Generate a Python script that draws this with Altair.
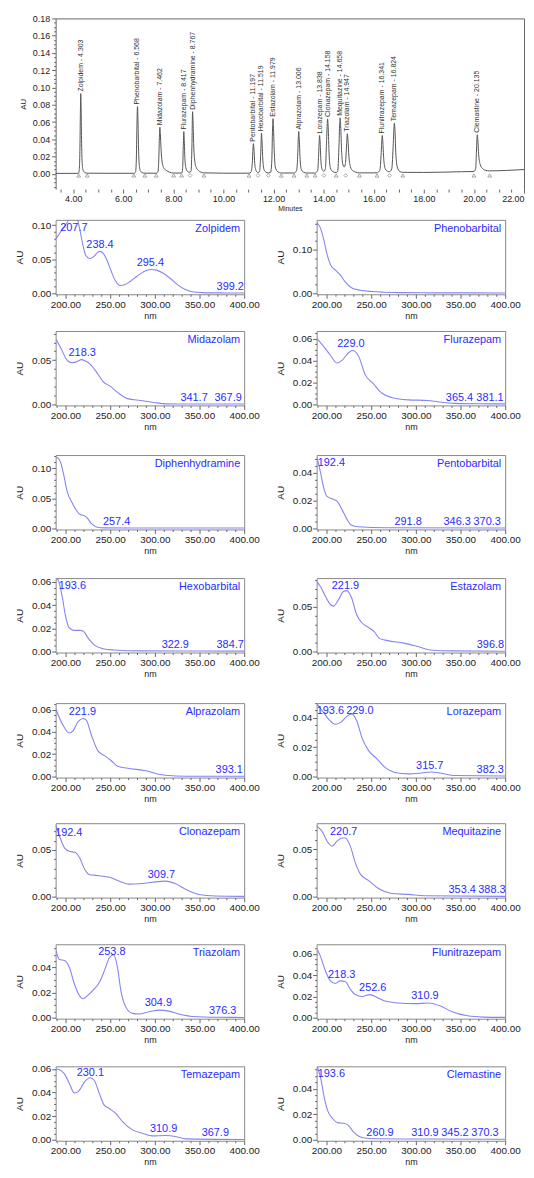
import math
import altair as alt
import pandas as pd

FONT = "Liberation Sans"
BLUE = "#2b2bff"
CURVE = "#8585f0"

# ---------------- chromatogram ----------------
chrom_time = [3.30, 4.15, 4.22, 4.25, 4.27, 4.29, 4.303, 4.315, 4.335, 4.36, 4.40, 4.47, 4.56,
              5.5, 6.42, 6.49, 6.52, 6.545, 6.568, 6.585, 6.61, 6.64, 6.69, 6.78, 6.86,
              7.32, 7.39, 7.42, 7.445, 7.462, 7.48, 7.51, 7.55, 7.62, 7.72, 7.85, 8.01,
              8.33, 8.37, 8.395, 8.417, 8.435, 8.46, 8.5, 8.56, 8.62, 8.67,
              8.71, 8.74, 8.767, 8.785, 8.81, 8.85, 8.92, 9.0, 9.1, 9.22,
              10.0, 11.02, 11.1, 11.15, 11.18, 11.197, 11.215, 11.25, 11.3, 11.38,
              11.44, 11.49, 11.519, 11.54, 11.575, 11.62, 11.7, 11.79,
              11.88, 11.93, 11.96, 11.979, 11.995, 12.03, 12.07, 12.15, 12.31,
              12.82, 12.92, 12.97, 12.99, 13.006, 13.025, 13.06, 13.11, 13.2, 13.33,
              13.66, 13.76, 13.8, 13.825, 13.838, 13.855, 13.89, 13.94, 14.01,
              14.07, 14.12, 14.158, 14.18, 14.22, 14.27, 14.35, 14.5,
              14.56, 14.61, 14.64, 14.658, 14.68, 14.72, 14.76, 14.82,
              14.87, 14.91, 14.947, 14.97, 15.01, 15.07, 15.15, 15.28, 15.43,
              16.0, 16.13, 16.24, 16.3, 16.325, 16.341, 16.36, 16.4, 16.46, 16.55, 16.63,
              16.72, 16.78, 16.81, 16.824, 16.845, 16.88, 16.94, 17.03, 17.16,
              18.0, 19.5, 20.0, 20.07, 20.1, 20.12, 20.135, 20.155, 20.19, 20.25, 20.35, 20.48, 20.63,
              21.3, 22.0]
chrom_au = [0.0006, 0.0006, 0.001, 0.008, 0.03, 0.075, 0.093, 0.08, 0.04, 0.012, 0.004, 0.0015, 0.0008,
            0.0007, 0.0007, 0.002, 0.015, 0.055, 0.078, 0.065, 0.03, 0.01, 0.003, 0.0012, 0.0008,
            0.0008, 0.003, 0.018, 0.045, 0.054, 0.047, 0.028, 0.014, 0.007, 0.004, 0.002, 0.001,
            0.001, 0.006, 0.03, 0.049, 0.04, 0.018, 0.007, 0.003, 0.002, 0.002,
            0.004, 0.03, 0.072, 0.062, 0.035, 0.016, 0.007, 0.004, 0.002, 0.0012,
            0.0008, 0.0008, 0.002, 0.012, 0.03, 0.035, 0.03, 0.012, 0.004, 0.0015,
            0.003, 0.025, 0.047, 0.038, 0.015, 0.005, 0.002, 0.0012,
            0.0015, 0.015, 0.052, 0.064, 0.056, 0.025, 0.008, 0.003, 0.001,
            0.001, 0.004, 0.025, 0.043, 0.049, 0.042, 0.018, 0.005, 0.002, 0.001,
            0.001, 0.004, 0.022, 0.04, 0.0445, 0.039, 0.016, 0.005, 0.003,
            0.006, 0.04, 0.0637, 0.055, 0.022, 0.007, 0.003, 0.0015,
            0.003, 0.03, 0.058, 0.065, 0.056, 0.025, 0.012, 0.008,
            0.012, 0.03, 0.0465, 0.04, 0.02, 0.008, 0.004, 0.002, 0.0012,
            0.0012, 0.0013, 0.004, 0.025, 0.04, 0.0445, 0.039, 0.017, 0.006, 0.003, 0.0025,
            0.006, 0.035, 0.055, 0.0587, 0.052, 0.025, 0.008, 0.003, 0.0018,
            0.0017, 0.0025, 0.0028, 0.006, 0.025, 0.04, 0.0453, 0.04, 0.022, 0.011, 0.006, 0.004, 0.0035,
            0.004, 0.005]

peak_names = ["Zolpidem", "Phenobarbital", "Midazolam", "Flurazepam", "Diphenhydramine",
              "Pentobarbital", "Hexobarbital", "Estazolam", "Alprazolam", "Lorazepam",
              "Clonazepam", "Mequitazine", "Triazolam", "Flunitrazepam", "Temazepam", "Clemastine"]
peak_rt = [4.303, 6.568, 7.462, 8.417, 8.767, 11.197, 11.519, 11.979, 13.006, 13.838,
           14.158, 14.658, 14.947, 16.341, 16.824, 20.135]
peak_height = [0.093, 0.078, 0.054, 0.049, 0.072, 0.035, 0.047, 0.064, 0.049, 0.0445,
               0.0637, 0.065, 0.0465, 0.0445, 0.0587, 0.0453]

triangle_times = [4.22, 4.56, 6.42, 6.86, 7.32, 8.01, 8.33, 9.22, 11.02, 12.31, 12.82, 13.33,
                  13.66, 14.50, 15.43, 16.13, 17.16, 20.00, 20.63]
diamond_times = [8.67, 11.38, 11.79, 14.01, 14.88, 16.63]
marker_au = -0.0018

# ---------------- UV spectra ----------------
zolpidem_nm = [189.5, 193, 197, 201, 204, 207.7, 211, 214, 216, 219.5, 223, 227, 231, 236, 238.4, 242, 246, 251,
               256, 261, 266, 272, 280, 288, 295.4, 302, 310, 318, 326, 334, 342, 352, 365, 380, 400]
zolpidem_au = [0.080, 0.087, 0.095, 0.102, 0.109, 0.113, 0.114, 0.106, 0.094, 0.071, 0.055, 0.051, 0.053, 0.060,
               0.0615, 0.059, 0.050, 0.033, 0.018, 0.0115, 0.0125, 0.017, 0.025, 0.032, 0.035, 0.034, 0.029,
               0.021, 0.012, 0.0055, 0.0022, 0.001, 0.0006, 0.0005, 0.0005]
zolpidem_labels = [("207.7", 209.4, 0.092), ("238.4", 238.6, 0.066), ("295.4", 295.0, 0.040), ("399.2", 384.4, 0.0044)]

phenobarbital_nm = [189.6, 193.3, 197, 200.7, 204.4, 210, 215.5, 221, 228.5, 237.7, 250.7, 265, 284, 320, 400]
phenobarbital_au = [0.161, 0.149, 0.123, 0.089, 0.066, 0.053, 0.042, 0.026, 0.012, 0.007, 0.004, 0.0025, 0.0015,
                    0.001, 0.0008]
phenobarbital_labels = []

midazolam_nm = [190, 195.6, 201, 206.7, 212, 218.3, 222, 227, 234.4, 241.8, 251, 258.4, 269.5, 284.3, 299, 314, 340, 400]
midazolam_au = [0.073, 0.062, 0.051, 0.047, 0.048, 0.0505, 0.049, 0.046, 0.037, 0.026, 0.0197, 0.0134, 0.0063,
                0.0042, 0.002, 0.0004, 0.0002, 0.0002]
midazolam_labels = [("218.3", 218.7, 0.0542), ("341.7", 343.9, 0.0039), ("367.9", 382.0, 0.0039)]

flurazepam_nm = [189.6, 197, 204.4, 211.8, 217.4, 224.8, 229.0, 235.9, 243.3, 252.5, 261.8, 272.9, 291.3, 313.5,
                 324.6, 343.1, 370, 400]
flurazepam_au = [0.0597, 0.0526, 0.0447, 0.0376, 0.040, 0.047, 0.049, 0.044, 0.027, 0.0187, 0.0102, 0.0062, 0.004,
                 0.0034, 0.0023, 0.0008, 0.0004, 0.0003]
flurazepam_labels = [("229.0", 227.4, 0.0523), ("365.4", 348.9, 0.0031), ("381.1", 383.0, 0.0031)]

diphenhydramine_nm = [189.5, 192, 194.5, 198.2, 201.8, 207.3, 212.8, 216.5, 220.1, 223.8, 229.2, 234.7, 243.9, 270, 400]
diphenhydramine_au = [0.118, 0.116, 0.110, 0.088, 0.062, 0.043, 0.029, 0.023, 0.022, 0.0185, 0.008, 0.0026, 0.001,
                      0.0008, 0.0007]
diphenhydramine_labels = [("257.4", 257.2, 0.0063)]

pentobarbital_nm = [189.5, 193.4, 197, 200.7, 206.2, 211.7, 217.2, 222.7, 228.2, 235.5, 268, 400]
pentobarbital_au = [0.051, 0.040, 0.029, 0.023, 0.0213, 0.0197, 0.0139, 0.0069, 0.0023, 0.0012, 0.0005, 0.0003]
pentobarbital_labels = [("192.4", 205.5, 0.0451), ("291.8", 291.4, 0.0023), ("346.3", 346.3, 0.0023),
                        ("370.3", 379.9, 0.0023)]

hexobarbital_nm = [190, 192.7, 196.3, 200, 203.7, 209.1, 216.5, 220.1, 225.6, 232.9, 242, 254.8, 284, 400]
hexobarbital_au = [0.063, 0.060, 0.0475, 0.031, 0.021, 0.0183, 0.0183, 0.0175, 0.0114, 0.0053, 0.0025, 0.0014,
                   0.0006, 0.0004]
hexobarbital_labels = [("193.6", 207.7, 0.0539), ("322.9", 322.9, 0.0031), ("384.7", 384.3, 0.0031)]

estazolam_nm = [189.5, 193.4, 198.9, 204.4, 208, 213.5, 219, 222.7, 228.2, 233.6, 239.1, 246.4, 253.7, 259.2,
                268.4, 286.7, 301.3, 316, 341.5, 400]
estazolam_au = [0.0777, 0.0723, 0.0615, 0.0525, 0.0507, 0.058, 0.067, 0.068, 0.0597, 0.0417, 0.0327, 0.0273,
                0.022, 0.0147, 0.0122, 0.0094, 0.0058, 0.0018, 0.0007, 0.0004]
estazolam_labels = [("221.9", 221.2, 0.0698), ("396.8", 383.5, 0.004)]

alprazolam_nm = [189.5, 193.5, 199.3, 204, 208.5, 214, 219.6, 223.3, 228.9, 236.3, 243.7, 251, 258.5, 271.5,
                 290, 303, 312, 334.8, 400]
alprazolam_au = [0.0606, 0.052, 0.0433, 0.039, 0.041, 0.049, 0.052, 0.0505, 0.0375, 0.023, 0.0187, 0.0144,
                 0.0092, 0.0072, 0.0052, 0.0023, 0.0012, 0.0003, 0.0002]
alprazolam_labels = [("221.9", 218.9, 0.0548), ("393.1", 383.3, 0.0029)]

lorazepam_nm = [189.6, 195.2, 202.6, 210, 215.5, 223, 228.5, 234, 239.6, 247, 256.3, 265.5, 276.7, 291.5, 306.3,
                317.4, 328.5, 343.3, 400]
lorazepam_au = [0.0493, 0.0449, 0.0389, 0.0356, 0.0367, 0.0411, 0.0427, 0.0378, 0.0267, 0.0178, 0.0122, 0.0062,
                0.0027, 0.0018, 0.0024, 0.0031, 0.0022, 0.0007, 0.0004]
lorazepam_labels = [("193.6", 204.4, 0.0427), ("229.0", 237.4, 0.0427), ("315.7", 315.6, 0.0049),
                    ("382.3", 383.3, 0.0022)]

clonazepam_nm = [189.5, 193.7, 199.3, 205, 210.4, 216, 221.5, 227, 238, 249.3, 260.4, 271.5, 282.6, 297.4, 312.2,
                 323.3, 334.4, 349.3, 367.8, 400]
clonazepam_au = [0.0759, 0.0638, 0.0517, 0.0483, 0.0476, 0.0414, 0.0293, 0.0234, 0.0224, 0.0207, 0.0166, 0.0134,
                 0.0138, 0.0155, 0.0166, 0.0138, 0.0079, 0.0024, 0.0007, 0.0003]
clonazepam_labels = [("192.4", 203.7, 0.0652), ("309.7", 307.4, 0.0197)]

mequitazine_nm = [189.6, 195.2, 200.7, 206.3, 211.8, 217.4, 221, 226.7, 232.2, 237.8, 247, 258.2, 273, 291.5, 310, 400]
mequitazine_au = [0.0741, 0.069, 0.0586, 0.0534, 0.0586, 0.062, 0.062, 0.0534, 0.0362, 0.0241, 0.0172, 0.0086,
                  0.0034, 0.0024, 0.001, 0.0003]
mequitazine_labels = [("220.7", 219.3, 0.0652), ("353.4", 351.9, 0.0038), ("388.3", 385.2, 0.0038)]

triazolam_nm = [189.5, 193.3, 198.9, 204.5, 210, 215.6, 219.3, 224.9, 232.3, 237.9, 243.4, 249, 253.8, 258.3, 262,
                267.5, 274.9, 282.4, 293.5, 304.6, 315.8, 326.9, 341.7, 371.4, 400]
triazolam_au = [0.0532, 0.0462, 0.0455, 0.0397, 0.0268, 0.0177, 0.015, 0.0177, 0.0229, 0.028, 0.037, 0.0475, 0.050,
                0.0397, 0.0216, 0.0086, 0.0034, 0.0029, 0.0047, 0.006, 0.0052, 0.0029, 0.001, 0.0003, 0.0002]
triazolam_labels = [("253.8", 251.9, 0.0496), ("304.9", 303.9, 0.0091), ("376.3", 375.9, 0.0029)]

flunitrazepam_nm = [190, 193.3, 198.9, 204.4, 210, 215.5, 221, 226.6, 232.2, 239.6, 248.8, 256.2, 265.4, 280.2,
                    298.7, 313.5, 328.3, 339.4, 357.9, 376.3, 400]
flunitrazepam_au = [0.0637, 0.0575, 0.0438, 0.0346, 0.0321, 0.0346, 0.034, 0.0269, 0.0217, 0.0199, 0.0217, 0.0193,
                    0.0156, 0.0138, 0.0132, 0.0138, 0.0107, 0.0061, 0.0018, 0.0006, 0.0003]
flunitrazepam_labels = [("218.3", 217.0, 0.0376), ("252.6", 251.8, 0.0248), ("310.9", 310.2, 0.0178)]

temazepam_nm = [189.5, 193.3, 198.9, 204.5, 210, 215.6, 221.2, 227.5, 232.3, 237.9, 243.4, 249, 256.4, 263.8, 275,
                286.1, 297.2, 312, 323.2, 334.3, 400]
temazepam_au = [0.060, 0.0594, 0.0558, 0.0474, 0.0396, 0.0419, 0.0488, 0.0525, 0.0502, 0.0391, 0.0293, 0.0265,
                0.0223, 0.0153, 0.0084, 0.0056, 0.0033, 0.0036, 0.0028, 0.0008, 0.0003]
temazepam_labels = [("230.1", 227.8, 0.0536), ("310.9", 309.8, 0.007), ("367.9", 367.7, 0.0033)]

clemastine_nm = [190, 193.7, 197.4, 201.1, 206.7, 212.2, 219.6, 225.1, 230.7, 238.1, 247.3, 300, 400]
clemastine_au = [0.0568, 0.0477, 0.0335, 0.0232, 0.0168, 0.0134, 0.0129, 0.0108, 0.0057, 0.0021, 0.001, 0.0006,
                 0.0004]
clemastine_labels = [("193.6", 205.5, 0.0495), ("260.9", 259.9, 0.0031), ("310.9", 310.2, 0.0031),
                     ("345.2", 343.8, 0.0031), ("370.3", 377.4, 0.0031)]

# y-axis range, major step, minor step for each spectrum panel
panel_axes = {
    "Zolpidem": (-0.0015, 0.1078, 0.05, 0.01),
    "Phenobarbital": (-0.0023, 0.168, 0.10, 0.02),
    "Midazolam": (-0.0014, 0.083, 0.05, 0.01),
    "Flurazepam": (-0.0011, 0.0668, 0.02, 0.005),
    "Diphenhydramine": (-0.0016, 0.1217, 0.05, 0.01),
    "Pentobarbital": (-0.0007, 0.0527, 0.02, 0.005),
    "Hexobarbital": (-0.0008, 0.0633, 0.02, 0.005),
    "Estazolam": (-0.0011, 0.082, 0.05, 0.01),
    "Alprazolam": (-0.0009, 0.0658, 0.02, 0.005),
    "Lorazepam": (-0.0007, 0.050, 0.02, 0.005),
    "Clonazepam": (-0.001, 0.0786, 0.05, 0.01),
    "Mequitazine": (-0.001, 0.0776, 0.05, 0.01),
    "Triazolam": (-0.0008, 0.0584, 0.02, 0.005),
    "Flunitrazepam": (-0.0009, 0.0689, 0.02, 0.005),
    "Temazepam": (-0.0008, 0.0622, 0.02, 0.005),
    "Clemastine": (-0.0008, 0.0575, 0.02, 0.005),
}

spectra = [
    ("Zolpidem", zolpidem_nm, zolpidem_au, zolpidem_labels),
    ("Phenobarbital", phenobarbital_nm, phenobarbital_au, phenobarbital_labels),
    ("Midazolam", midazolam_nm, midazolam_au, midazolam_labels),
    ("Flurazepam", flurazepam_nm, flurazepam_au, flurazepam_labels),
    ("Diphenhydramine", diphenhydramine_nm, diphenhydramine_au, diphenhydramine_labels),
    ("Pentobarbital", pentobarbital_nm, pentobarbital_au, pentobarbital_labels),
    ("Hexobarbital", hexobarbital_nm, hexobarbital_au, hexobarbital_labels),
    ("Estazolam", estazolam_nm, estazolam_au, estazolam_labels),
    ("Alprazolam", alprazolam_nm, alprazolam_au, alprazolam_labels),
    ("Lorazepam", lorazepam_nm, lorazepam_au, lorazepam_labels),
    ("Clonazepam", clonazepam_nm, clonazepam_au, clonazepam_labels),
    ("Mequitazine", mequitazine_nm, mequitazine_au, mequitazine_labels),
    ("Triazolam", triazolam_nm, triazolam_au, triazolam_labels),
    ("Flunitrazepam", flunitrazepam_nm, flunitrazepam_au, flunitrazepam_labels),
    ("Temazepam", temazepam_nm, temazepam_au, temazepam_labels),
    ("Clemastine", clemastine_nm, clemastine_au, clemastine_labels),
]

NM_MIN, NM_MAX = 189.0, 400.0
CH_XMIN, CH_XMAX = 3.30, 22.0
CH_YMIN, CH_YMAX = -0.0176, 0.18


def major_test(step):
    return f"abs(datum.value/{step} - round(datum.value/{step})) < 0.01"


def axis_common():
    return dict(labelFont=FONT, titleFont=FONT, labelColor="#222", titleColor="#222",
                titleFontWeight="normal", tickColor="#666", domainColor="#666", grid=False,
                labelOverlap=False)


# ---- chromatogram chart ----
trace_df = pd.DataFrame({"t": chrom_time, "au": chrom_au})
peaks_df = pd.DataFrame({"rt": peak_rt, "h": peak_height,
                         "label": [f"{n} - {r:.3f}" for n, r in zip(peak_names, peak_rt)]})
mk_df = pd.DataFrame({
    "t": triangle_times + diamond_times,
    "au": [marker_au] * (len(triangle_times) + len(diamond_times)),
    "kind": ["tri"] * len(triangle_times) + ["dia"] * len(diamond_times),
})

cx = alt.Scale(domain=[CH_XMIN, CH_XMAX], nice=False, zero=False)
cy = alt.Scale(domain=[CH_YMIN, CH_YMAX], nice=False, zero=False)
cx_vals = [round(3.5 + 0.5 * k, 2) for k in range(38)]
cy_vals = [round(-0.015 + 0.005 * k, 3) for k in range(40)]

cx_axis = alt.Axis(values=cx_vals, title="Minutes", titleFontSize=7, labelFontSize=9, domain=False,
                   labelExpr=f"{major_test(2)} ? format(datum.value, '.2f') : ''",
                   tickSize={"condition": {"test": major_test(2), "value": 4}, "value": 3},
                   labelPadding=1, titlePadding=2, labelFlush=True, **axis_common())
cy_axis = alt.Axis(values=cy_vals, title="AU", titleFontSize=8, labelFontSize=9, domain=True,
                   labelExpr=f"{major_test(0.02)} ? format(datum.value, '.2f') : ''",
                   tickSize={"condition": {"test": major_test(0.02), "value": 4}, "value": 2},
                   labelPadding=2, titlePadding=5, labelFlush=False, **axis_common())
frame_top = alt.Axis(orient="top", labels=False, ticks=False, domain=True, title=None,
                     domainColor="#666", grid=False)
frame_right = alt.Axis(orient="right", labels=False, ticks=False, domain=True, title=None,
                       domainColor="#666", grid=False)

chrom_line = alt.Chart(trace_df).mark_line(color="#555", strokeWidth=1, interpolate="monotone").encode(
    x=alt.X("t:Q", scale=cx, axis=cx_axis),
    y=alt.Y("au:Q", scale=cy, axis=cy_axis),
)
chrom_text = alt.Chart(peaks_df).mark_text(angle=270, align="left", baseline="middle", dx=2, fontSize=7,
                                            font=FONT, color="#333").encode(
    x=alt.X("rt:Q", scale=cx, axis=frame_top),
    y=alt.Y("h:Q", scale=cy, axis=frame_right),
    text="label:N",
)
chrom_marks = alt.Chart(mk_df).mark_point(filled=False, size=14, strokeWidth=0.8, color="#666").encode(
    x=alt.X("t:Q", scale=cx, axis=None),
    y=alt.Y("au:Q", scale=cy, axis=None),
    shape=alt.Shape("kind:N", scale=alt.Scale(domain=["tri", "dia"], range=["triangle-up", "diamond"]),
                    legend=None),
)
chrom = alt.layer(chrom_line, chrom_marks, chrom_text).resolve_axis(x="independent", y="independent").properties(
    width=472, height=172, view=alt.ViewBackground(stroke=None))


# ---- spectrum panels ----
def panel(name, nm, au, labels, title_pad=7):
    ymin, ymax, major, minor = panel_axes[name]
    xs = alt.Scale(domain=[NM_MIN, NM_MAX], nice=False, zero=False)
    ys = alt.Scale(domain=[ymin, ymax], nice=False, zero=False)
    x_vals = list(range(190, 401, 10))
    k0 = math.ceil(ymin / minor - 1e-9)
    k1 = math.floor(ymax / minor + 1e-9)
    y_vals = [round(k * minor, 4) for k in range(k0, k1 + 1)]
    xa = alt.Axis(values=x_vals, title="nm", titleFontSize=9, labelFontSize=10, domain=False,
                  labelExpr=f"{major_test(50)} ? format(datum.value, '.2f') : ''",
                  tickSize={"condition": {"test": major_test(50), "value": 4}, "value": 2},
                  labelPadding=1, titlePadding=2, labelFlush=False, **axis_common())
    ya = alt.Axis(values=y_vals, title="AU", titleFontSize=10, labelFontSize=10, domain=False,
                  labelExpr=f"{major_test(major)} ? format(datum.value, '.2f') : ''",
                  tickSize={"condition": {"test": major_test(major), "value": 4}, "value": 2},
                  labelPadding=1, titlePadding=title_pad, labelFlush=False, **axis_common())
    df = pd.DataFrame({"nm": nm, "au": au})
    line = alt.Chart(df).mark_line(color=CURVE, strokeWidth=1.1, interpolate="monotone", clip=True).encode(
        x=alt.X("nm:Q", scale=xs, axis=xa),
        y=alt.Y("au:Q", scale=ys, axis=ya),
    )
    layers = [line]
    if labels:
        ldf = pd.DataFrame({"nm": [l[1] for l in labels], "au": [l[2] for l in labels],
                            "txt": [l[0] for l in labels]})
        layers.append(alt.Chart(ldf).mark_text(align="center", baseline="alphabetic", fontSize=11, font=FONT,
                                               color=BLUE).encode(
            x=alt.X("nm:Q", scale=xs, axis=xa), y=alt.Y("au:Q", scale=ys, axis=ya), text="txt:N"))
    ndf = pd.DataFrame({"nm": [NM_MAX], "au": [ymax], "txt": [name]})
    layers.append(alt.Chart(ndf).mark_text(align="right", baseline="top", dx=-4, dy=3, fontSize=11, font=FONT,
                                           color=BLUE).encode(
        x=alt.X("nm:Q", scale=xs, axis=xa), y=alt.Y("au:Q", scale=ys, axis=ya), text="txt:N"))
    return alt.layer(*layers).properties(width=190, height=75, view=alt.ViewBackground(stroke="#888"))


def row(i, spacing=15):
    return alt.hconcat(panel(*spectra[i]), panel(*spectra[i + 1]), spacing=spacing)


row1 = row(0)
rest = alt.vconcat(*[row(i) for i in range(2, 16, 2)], spacing=18)

chart = alt.vconcat(chrom, row1, rest, spacing=6).configure(
    font=FONT, padding={"left": 6, "top": 2, "right": 0, "bottom": 0}
).configure_view(stroke=None)

chart.save("out.html", embed_options={"renderer": "svg", "actions": False})
